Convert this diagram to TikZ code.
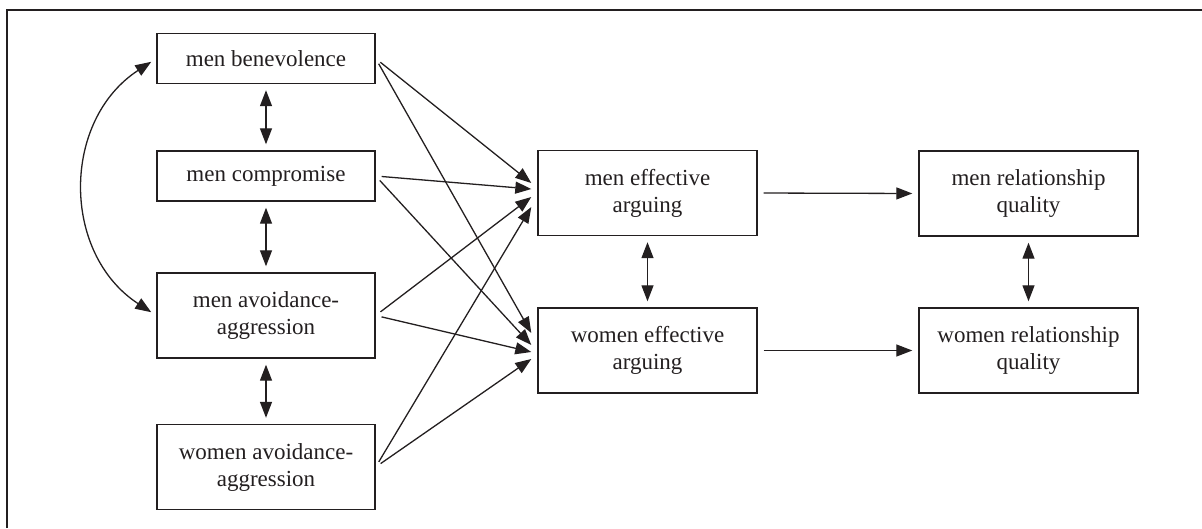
\documentclass[tikz,border=0pt]{standalone}
\usepackage{fontspec}
\setmainfont{Liberation Serif}
\usetikzlibrary{arrows.meta}
\definecolor{ink}{HTML}{231F20}
\begin{document}
\begin{tikzpicture}[x=1pt,y=-1pt,
  box/.style={draw=ink, line width=1.4pt, minimum width=218pt, inner sep=0pt,
    align=center, text=ink, font=\fontsize{23}{27}\selectfont},
  sbox/.style={box, minimum height=50pt},
  tbox/.style={box, minimum height=85pt},
  tip/.style={-{Triangle[length=16pt,width=12pt]}},
  conn/.style={draw=ink, line width=1.3pt, tip},
  dbl/.style={draw=ink, line width=1.3pt, {Triangle[length=16pt,width=12pt]}-{Triangle[length=16pt,width=12pt]}, shorten <=6pt, shorten >=6pt},
]
\useasboundingbox (0,0) rectangle (1202,528);
\draw[ink, line width=2.5pt] (7,528) -- (7,10) -- (1202,10);

\node[sbox] (mb) at (266,58.5) {men benevolence};
\node[sbox] (mc) at (266,176) {men compromise};
\node[tbox] (ma) at (266,315.5) {men avoidance-\\aggression};
\node[tbox] (wa) at (266,467) {women avoidance-\\aggression};
\node[tbox, minimum width=219pt] (mea) at (647.5,193) {men effective\\arguing};
\node[tbox, minimum width=219pt] (wea) at (647.5,350.5) {women effective\\arguing};
\node[tbox, minimum width=219pt] (mrq) at (1028.5,193.5) {men relationship\\quality};
\node[tbox, minimum width=219pt] (wrq) at (1028.5,350.5) {women relationship\\quality};

% endpoints on the effective arguing boxes
\coordinate (e1) at ([shift={(-6,-10)}]mea.west);
\coordinate (e2) at ([shift={(-6,-4)}]mea.west);
\coordinate (e3) at ([shift={(-6,4)}]mea.west);
\coordinate (e4) at ([shift={(-6,14)}]mea.west);
\coordinate (f1) at ([shift={(-6,-17.5)}]wea.west);
\coordinate (f2) at ([shift={(-6,-5.5)}]wea.west);
\coordinate (f3) at ([shift={(-6,1.5)}]wea.west);
\coordinate (f4) at ([shift={(-6,8.5)}]wea.west);

\path[conn, shorten <=6pt] (mb.east) -- (e1);
\path[conn, shorten <=6pt] (mc.east) -- (e2);
\path[conn, shorten <=6pt] (ma.east) -- (e3);
\path[conn, shorten <=6pt] (wa.east) -- (e4);
\path[conn, shorten <=6pt] (mb.east) -- (f1);
\path[conn, shorten <=6pt] (mc.east) -- (f2);
\path[conn, shorten <=6pt] (ma.east) -- (f3);
\path[conn, shorten <=6pt] (wa.east) -- (f4);

\path[conn, shorten <=6pt, shorten >=6pt] (mea.east) -- (mrq.west);
\path[conn, shorten <=6pt, shorten >=6pt] (wea.east) -- (wrq.west);

\path[dbl] (mb.south) -- (mc.north);
\path[dbl] (mc.south) -- (ma.north);
\path[dbl] (ma.south) -- (wa.north);
\path[dbl] (mea.south) -- (wea.north);
\path[dbl] (mrq.south) -- (wrq.north);

\path[dbl] (mb.west) .. controls +(-95,62) and +(-95,-62) .. (ma.west);
\end{tikzpicture}
\end{document}
